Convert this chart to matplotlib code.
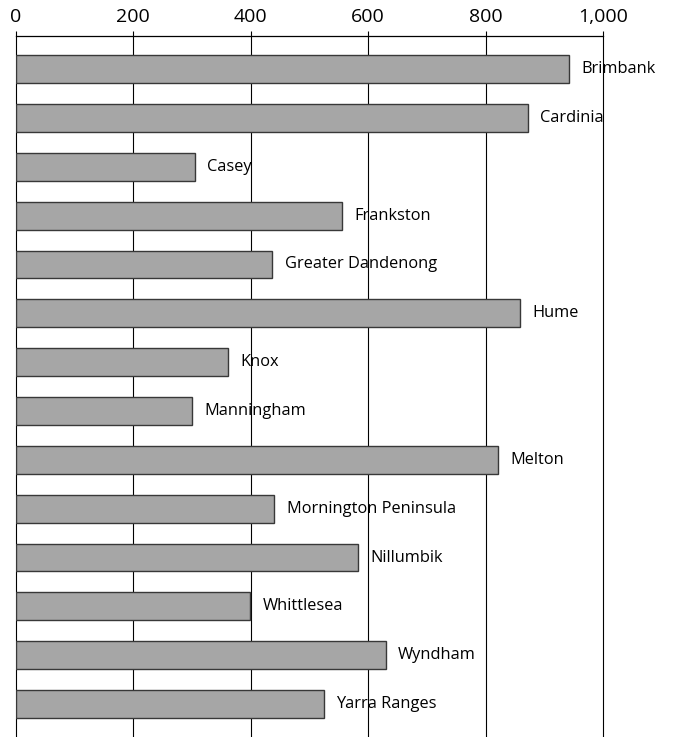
import matplotlib
matplotlib.use("Agg")
import matplotlib.pyplot as plt
from matplotlib.ticker import FuncFormatter

plt.rcParams["font.family"] = ["Open Sans", "DejaVu Sans"]

# data
areas = [
    "Brimbank", "Cardinia", "Casey", "Frankston", "Greater Dandenong",
    "Hume", "Knox", "Manningham", "Melton", "Mornington Peninsula",
    "Nillumbik", "Whittlesea", "Wyndham", "Yarra Ranges",
]
values = [942, 872, 305, 556, 437, 859, 361, 300, 821, 440, 582, 399, 630, 525]
x_ticks = [0, 200, 400, 600, 800, 1000]

fig = plt.figure(figsize=(6.73, 7.37), dpi=100)
ax = fig.add_axes([0.0233, 0.0, 0.8727, 0.951])

ypos = list(range(len(areas)))
ax.barh(ypos, values, height=0.57, color="#a6a6a6", edgecolor="#383838",
        linewidth=1.0, zorder=3)

for y, v, name in zip(ypos, values, areas):
    ax.annotate(name, (v, y), xytext=(9, 0), textcoords="offset points",
                va="center", ha="left", fontsize=11.8, color="black", zorder=4)

ax.set_xlim(0, 1000)
ax.set_ylim(len(areas) - 0.325, -0.675)
ax.set_xticks(x_ticks)
ax.xaxis.set_major_formatter(FuncFormatter(lambda v, p: f"{int(v):,}"))
ax.xaxis.tick_top()
ax.tick_params(axis="x", direction="out", length=3.5, width=0.8,
               pad=4, labelsize=14, colors="black")
ax.set_yticks([])
ax.grid(axis="x", color="black", linewidth=0.8, zorder=0)
for gl in ax.get_xgridlines():
    gl.set_clip_on(False)

for side in ["left", "right", "bottom"]:
    ax.spines[side].set_visible(False)
ax.spines["top"].set_linewidth(0.9)

fig.savefig("out.png", dpi=100)
